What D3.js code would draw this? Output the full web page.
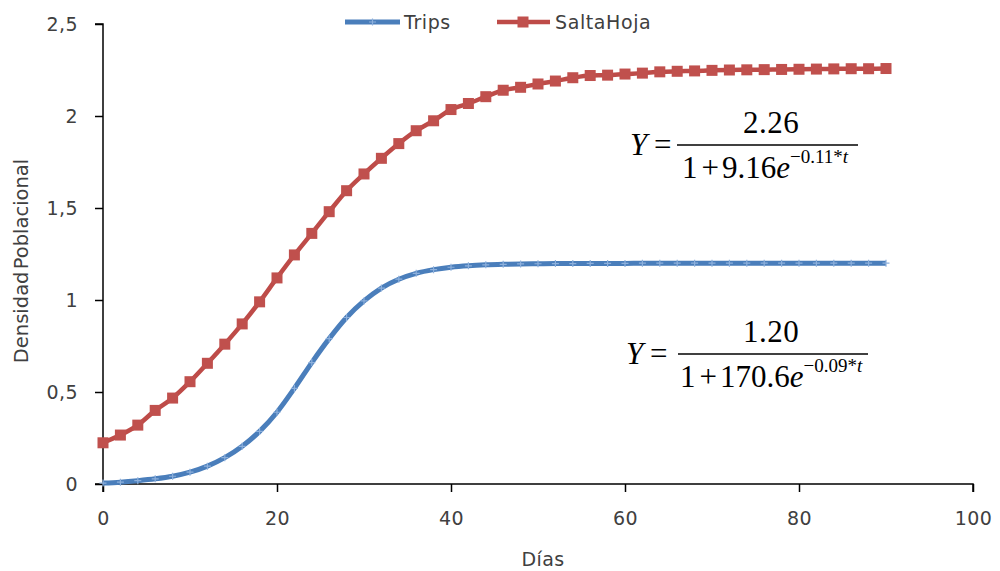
<!DOCTYPE html>
<html>
<head>
<meta charset="utf-8">
<script src="https://cdn.jsdelivr.net/npm/d3@7"></script>
<style>
  body { margin: 0; background: #fff; }
  text { font-family: "DejaVu Sans", Verdana, sans-serif; }
  .eq text { font-family: "Liberation Serif", "Times New Roman", serif; }
</style>
</head>
<body>
<svg id="chart" width="1000" height="571"></svg>
<script>
var dias = [0, 2, 4, 6, 8, 10, 12, 14, 16, 18, 20, 22, 24, 26, 28, 30, 32, 34, 36, 38, 40, 42, 44,
            46, 48, 50, 52, 54, 56, 58, 60, 62, 64, 66, 68, 70, 72, 74, 76, 78, 80, 82, 84, 86, 88, 90];

var trips = [0.005, 0.010, 0.018, 0.028, 0.042, 0.064, 0.097, 0.143, 0.205, 0.286, 0.390, 0.520,
             0.660, 0.790, 0.905, 0.995, 1.065, 1.113, 1.145, 1.165, 1.178, 1.186, 1.191, 1.194,
             1.196, 1.197, 1.198, 1.198, 1.199, 1.199, 1.199, 1.2, 1.2, 1.2, 1.2, 1.2, 1.2, 1.2,
             1.2, 1.2, 1.2, 1.2, 1.2, 1.2, 1.2, 1.2];

var saltaHoja = [0.224, 0.266, 0.320, 0.400, 0.467, 0.556, 0.656, 0.760, 0.870, 0.990, 1.120, 1.245,
                 1.362, 1.480, 1.594, 1.685, 1.770, 1.850, 1.920, 1.974, 2.035, 2.068, 2.105, 2.140,
                 2.156, 2.174, 2.190, 2.208, 2.220, 2.222, 2.228, 2.233, 2.240, 2.243, 2.245, 2.248,
                 2.250, 2.251, 2.252, 2.253, 2.254, 2.255, 2.256, 2.257, 2.257, 2.258];

var xTicks = [0, 20, 40, 60, 80, 100];
var yTicks = [0, 0.5, 1, 1.5, 2, 2.5];

var blue = "#4a7ebb", blueLight = "#8db0dc", red = "#be4b48";

var svg = d3.select("#chart");

var x = d3.scaleLinear().domain([0, 100]).range([103, 973]);
var y = d3.scaleLinear().domain([0, 2.5]).range([484, 24]);

// axes
var yAxis = d3.axisLeft(y).tickValues(yTicks).tickSize(8).tickPadding(17)
  .tickFormat(function (d) { return String(d).replace(".", ","); });
var xAxis = d3.axisBottom(x).tickValues(xTicks).tickSize(8).tickPadding(20);

var gy = svg.append("g").attr("transform", "translate(103,0)").call(yAxis);
var gx = svg.append("g").attr("transform", "translate(0,484)").call(xAxis);

[gy, gx].forEach(function (g) {
  g.select(".domain").attr("stroke", "#000").attr("stroke-width", 1.5);
  g.selectAll(".tick line").attr("stroke", "#000").attr("stroke-width", 1.5);
  g.selectAll(".tick text").attr("fill", "#404040").style("font-size", "19px")
    .style("letter-spacing", "0.4px")
    .style("font-family", "DejaVu Sans, Verdana, sans-serif");
});
gy.select(".domain").attr("d", "M-8," + y(2.5) + "H0V" + y(0) + "H-8");
gx.select(".domain").attr("d", "M" + x(0) + ",8V0H" + x(100) + "V8");

// axis titles
svg.append("text")
  .attr("transform", "translate(28,261) rotate(-90)")
  .attr("text-anchor", "middle")
  .attr("fill", "#404040")
  .style("font-size", "19.5px")
  .style("word-spacing", "-4px")
  .text("Densidad Poblacional");

svg.append("text")
  .attr("x", 543).attr("y", 566)
  .attr("text-anchor", "middle")
  .attr("fill", "#404040")
  .style("font-size", "19px")
  .style("letter-spacing", "0.4px")
  .text("Días");

// lines
var tripsData = dias.map(function (d, i) { return { t: d, v: trips[i] }; });
var saltaData = dias.map(function (d, i) { return { t: d, v: saltaHoja[i] }; });

var line = d3.line()
  .curve(d3.curveMonotoneX)
  .x(function (d) { return x(d.t); })
  .y(function (d) { return y(d.v); });

svg.append("path")
  .datum(saltaData)
  .attr("fill", "none")
  .attr("stroke", red)
  .attr("stroke-width", 4.5)
  .attr("d", line);

svg.selectAll(".sq")
  .data(saltaData)
  .enter()
  .append("rect")
  .attr("x", function (d) { return x(d.t) - 5.5; })
  .attr("y", function (d) { return y(d.v) - 5.5; })
  .attr("width", 11)
  .attr("height", 11)
  .attr("fill", "#c0504d");

svg.append("path")
  .datum(tripsData)
  .attr("fill", "none")
  .attr("stroke", blue)
  .attr("stroke-width", 5)
  .attr("d", line);

svg.selectAll(".plus")
  .data(tripsData)
  .enter()
  .append("path")
  .attr("d", function (d) {
    var cx = x(d.t), cy = y(d.v);
    return "M" + (cx - 3.5) + "," + cy + "H" + (cx + 3.5) + "M" + cx + "," + (cy - 3.5) + "V" + (cy + 3.5);
  })
  .attr("stroke", blueLight)
  .attr("stroke-width", 1.2);

// legend
var leg = svg.append("g");
leg.append("line").attr("x1", 345).attr("x2", 400).attr("y1", 22).attr("y2", 22)
  .attr("stroke", blue).attr("stroke-width", 5);
leg.append("path").attr("d", "M369,22H376M372.5,18.5V25.5").attr("stroke", blueLight).attr("stroke-width", 1.2);
leg.append("text").attr("x", 404).attr("y", 29).attr("fill", "#404040")
  .style("font-size", "19px").style("letter-spacing", "0.6px").text("Trips");

leg.append("line").attr("x1", 497).attr("x2", 550).attr("y1", 22).attr("y2", 22)
  .attr("stroke", red).attr("stroke-width", 4.5);
leg.append("rect").attr("x", 517.5).attr("y", 16.5).attr("width", 11).attr("height", 11).attr("fill", "#c0504d");
leg.append("text").attr("x", 555).attr("y", 29).attr("fill", "#404040")
  .style("font-size", "19px").style("letter-spacing", "0.6px").text("SaltaHoja");

// equations
function equation(g, o) {
  g.append("text").attr("x", o.yx).attr("y", o.yb).style("font-size", "31px")
    .style("font-style", "italic").text("Y");
  g.append("text").attr("x", o.yx + 24).attr("y", o.yb).style("font-size", "31px").text("=");
  g.append("line").attr("x1", o.l1).attr("x2", o.l2).attr("y1", o.ly).attr("y2", o.ly)
    .attr("stroke", "#000").attr("stroke-width", 1.3);
  g.append("text").attr("x", o.nx).attr("y", o.ly - 12).attr("text-anchor", "middle")
    .style("font-size", "31px").style("letter-spacing", "0.5px").text(o.num);
  var den = g.append("text").attr("x", o.dx).attr("y", o.ly + 33).style("font-size", "31px");
  den.append("tspan").text(o.den[0]);
  den.append("tspan").attr("dx", 4).text("+");
  den.append("tspan").attr("dx", 3).text(o.den[1]);
  den.append("tspan").style("font-style", "italic").text("e");
  den.append("tspan").attr("dy", -15).style("font-size", "19px").text(o.exp);
  den.append("tspan").style("font-size", "19px").style("font-style", "italic").text("t");
}
var eq = svg.append("g").attr("class", "eq");
equation(eq, { yx: 630, yb: 155, l1: 677, l2: 858, ly: 145, nx: 771, num: "2.26",
               dx: 682, den: ["1", "9.16"], exp: "\u22120.11*" });
equation(eq, { yx: 626, yb: 364, l1: 678, l2: 868, ly: 354, nx: 771, num: "1.20",
               dx: 680, den: ["1", "170.6"], exp: "\u22120.09*" });
</script>
</body>
</html>
